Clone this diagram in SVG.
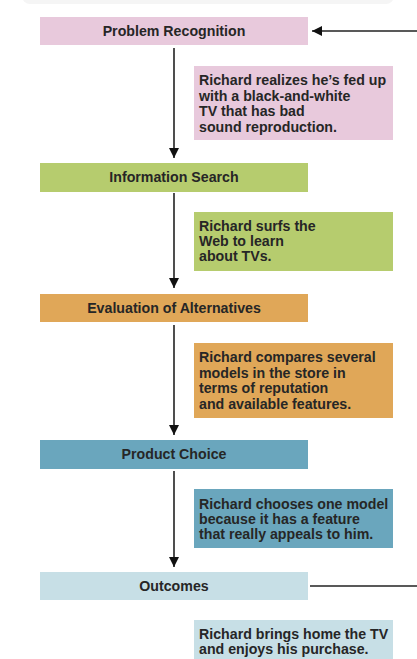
<svg xmlns="http://www.w3.org/2000/svg" width="417" height="659" viewBox="0 0 417 659">
<defs>
<style>
.t{font-family:"Liberation Sans",Arial,sans-serif;font-weight:bold;font-size:14.2px;fill:#262626;text-anchor:middle}
.d{font-family:"Liberation Sans",Arial,sans-serif;font-weight:bold;font-size:14.2px;fill:#262626}
.ln{stroke:#222;stroke-width:1.6;fill:none}
</style>
<marker id="ah" viewBox="0 0 10 10" refX="10" refY="5" markerWidth="10" markerHeight="10" markerUnits="userSpaceOnUse" orient="auto">
<path d="M0,0 L10,5 L0,10 Z" fill="#111"/>
</marker>
</defs>
<rect width="417" height="659" fill="#ffffff"/>
<rect x="22" y="-12" width="372" height="16" rx="8" fill="#f5f5f5"/>
<g id="connectors">
<line class="ln" x1="174" y1="48" x2="174" y2="158" marker-end="url(#ah)"/>
<line class="ln" x1="174" y1="193" x2="174" y2="288" marker-end="url(#ah)"/>
<line class="ln" x1="174" y1="325" x2="174" y2="435" marker-end="url(#ah)"/>
<line class="ln" x1="174" y1="471" x2="174" y2="567" marker-end="url(#ah)"/>
<line class="ln" x1="417" y1="31" x2="312" y2="31" marker-end="url(#ah)"/>
<line class="ln" x1="310" y1="586" x2="417" y2="586"/>
</g>
<g id="problem-recognition">
<rect x="40" y="17" width="268" height="28" fill="#e8c9dc"/>
<text class="t" x="174" y="36">Problem Recognition</text>
</g>
<g id="problem-recognition-note">
<rect x="194" y="66" width="199" height="74" fill="#e8c9dc"/>
<text class="d" x="199" y="85">Richard realizes he’s fed up</text>
<text class="d" x="199" y="100.5">with a black-and-white</text>
<text class="d" x="199" y="116">TV that has bad</text>
<text class="d" x="199" y="131.5">sound reproduction.</text>
</g>
<g id="information-search">
<rect x="40" y="163" width="268" height="29" fill="#b6cc6e"/>
<text class="t" x="174" y="182">Information Search</text>
</g>
<g id="information-search-note">
<rect x="194" y="212" width="199" height="59" fill="#b6cc6e"/>
<text class="d" x="199" y="231">Richard surfs the</text>
<text class="d" x="199" y="246">Web to learn</text>
<text class="d" x="199" y="260.5">about TVs.</text>
</g>
<g id="evaluation-of-alternatives">
<rect x="40" y="294" width="268" height="28" fill="#e0a758"/>
<text class="t" x="174" y="313">Evaluation of Alternatives</text>
</g>
<g id="evaluation-note">
<rect x="194" y="343" width="199" height="75" fill="#e0a758"/>
<text class="d" x="199" y="362">Richard compares several</text>
<text class="d" x="199" y="377.5">models in the store in</text>
<text class="d" x="199" y="393">terms of reputation</text>
<text class="d" x="199" y="408.5">and available features.</text>
</g>
<g id="product-choice">
<rect x="40" y="440" width="268" height="29" fill="#6aa6bd"/>
<text class="t" x="174" y="459">Product Choice</text>
</g>
<g id="product-choice-note">
<rect x="194" y="489" width="199" height="59" fill="#6aa6bd"/>
<text class="d" x="199" y="509">Richard chooses one model</text>
<text class="d" x="199" y="524">because it has a feature</text>
<text class="d" x="199" y="539">that really appeals to him.</text>
</g>
<g id="outcomes">
<rect x="40" y="572" width="268" height="28" fill="#c7dfe6"/>
<text class="t" x="174" y="591">Outcomes</text>
</g>
<g id="outcomes-note">
<rect x="194" y="620" width="199" height="45" fill="#c7dfe6"/>
<text class="d" x="199" y="639">Richard brings home the TV</text>
<text class="d" x="199" y="653.5">and enjoys his purchase.</text>
</g>
</svg>
